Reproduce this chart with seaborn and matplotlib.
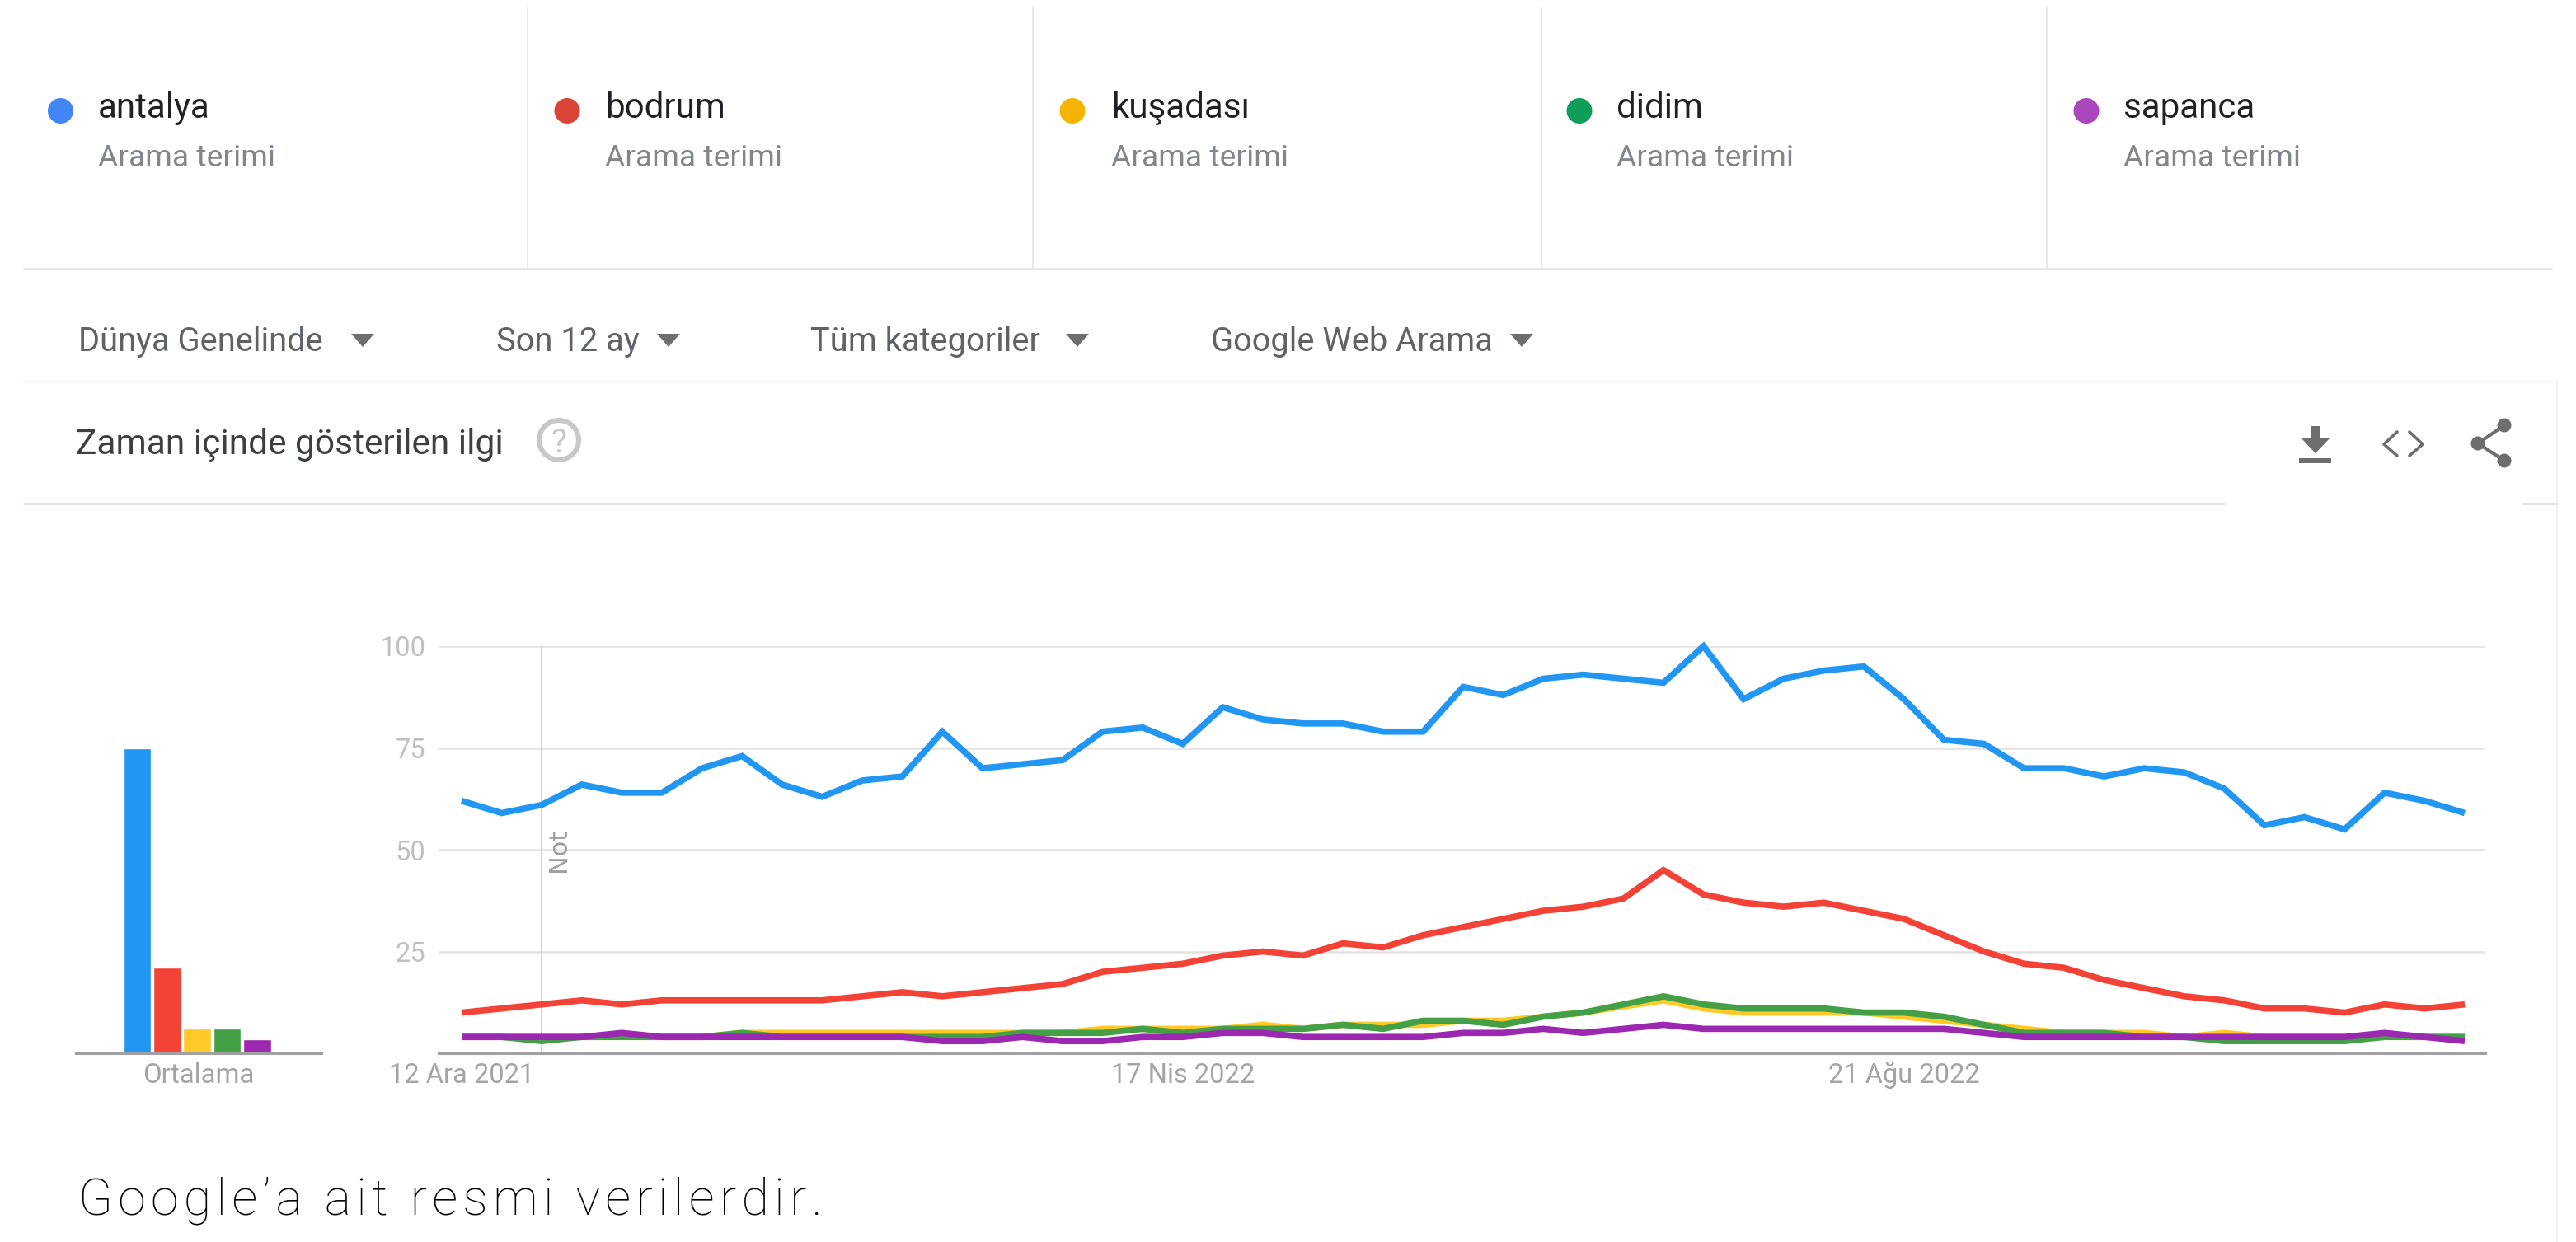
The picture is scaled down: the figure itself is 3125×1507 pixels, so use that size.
import matplotlib
matplotlib.use("Agg")
import matplotlib.pyplot as plt
import matplotlib.dates as mdates
from matplotlib.patches import Circle, Polygon
import pandas as pd
import seaborn as sns

W, H = 3125, 1507
terms = ["antalya", "bodrum", "kuşadası", "didim", "sapanca"]
dot_colors = ["#4285f4", "#db4437", "#f4b400", "#0f9d58", "#ab47bc"]
line_colors = ["#2196f3", "#f44336", "#ffca28", "#43a047", "#9c27b0"]
averages = [75, 21, 6, 6, 3.5]
start_date = "2021-12-12"
antalya = [62,59,61,66,64,64,70,73,66,63,67,68,79,70,71,72,79,80,76,85,82,81,81,79,79,90,88,92,93,92,91,100,87,92,94,95,87,77,76,70,70,68,70,69,65,56,58,55,64,62,59]
bodrum = [10,11,12,13,12,13,13,13,13,13,14,15,14,15,16,17,20,21,22,24,25,24,27,26,29,31,33,35,36,38,45,39,37,36,37,35,33,29,25,22,21,18,16,14,13,11,11,10,12,11,12]
kusadasi = [4,4,4,4,4,4,4,5,5,5,5,5,5,5,5,5,6,6,6,6,7,6,7,7,7,8,8,9,10,11.5,13,11,10,10,10,10,9,8,7,6,5,5,5,4,5,4,4,4,4,4,4]
didim = [4,4,3,4,4,4,4,5,4,4,4,4,4,4,5,5,5,6,5,6,6,6,7,6,8,8,7,9,10,12,14,12,11,11,11,10,10,9,7,5,5,5,4,4,3,3,3,3,4,4,4]
sapanca = [4,4,4,4,5,4,4,4,4,4,4,4,3,3,4,3,3,4,4,5,5,4,4,4,4,5,5,6,5,6,7,6,6,6,6,6,6,6,5,4,4,4,4,4,4,4,4,4,5,4,3]
y_ticks = [25, 50, 75, 100]
x_tick_dates = ["2021-12-12", "2022-04-17", "2022-08-21"]
x_tick_labels = ["12 Ara 2021", "17 Nis 2022", "21 Ağu 2022"]
note_date = "2021-12-26"
filters = ["Dünya Genelinde", "Son 12 ay", "Tüm kategoriler", "Google Web Arama"]
caption = "Google\u2019a ait resmi verilerdir."

sns.set_theme(style="white")
plt.rcParams["font.family"] = ["Roboto", "DejaVu Sans"]

dates = pd.date_range(start_date, periods=len(antalya), freq="7D")
long_df = pd.concat([
    pd.DataFrame({"date": dates, "term": t, "value": v})
    for t, v in zip(terms, [antalya, bodrum, kusadasi, didim, sapanca])
])
avg_df = pd.DataFrame({"term": terms, "value": averages})

fig = plt.figure(figsize=(W / 100, H / 100), dpi=100, facecolor="white")

def axes_px(x0, y0, x1, y1):
    return fig.add_axes([x0 / W, 1 - y1 / H, (x1 - x0) / W, (y1 - y0) / H])

# page chrome in pixel coordinates
ui = fig.add_axes([0, 0, 1, 1], zorder=0)
ui.set_xlim(0, W); ui.set_ylim(H, 0); ui.axis("off")

def hline(y, x0, x1, c="#e2e2e2", lw=2.0):
    ui.plot([x0, x1], [y, y], color=c, lw=lw, solid_capstyle="butt")
def vline(x, y0, y1, c="#e2e2e2", lw=1.1):
    ui.plot([x, x], [y0, y1], color=c, lw=lw, solid_capstyle="butt")

for x in [640, 1253, 1870, 2483]:
    vline(x, 8, 326)
hline(326, 28, 3096)
hline(463, 28, 3103, c="#f4f4f4", lw=1.2)
vline(3102, 463, H, c="#f1f1f1", lw=1.4)
hline(611, 28, 2699)
hline(611, 3059, 3103)

dot_x = [73.5, 688, 1301, 1916, 2531]
label_x = [119, 734, 1348, 1961, 2576]
for t, c, dx, lx in zip(terms, dot_colors, dot_x, label_x):
    ui.add_patch(Circle((dx, 134.5), 15.5, color=c, lw=0))
    ui.text(lx, 143, t, fontsize=30.3, color="#202124", va="baseline", ha="left")
    ui.text(lx, 202, "Arama terimi", fontsize=26.8, color="#80868b", va="baseline", ha="left")

filter_x = [95, 602, 983, 1469]
tri_x = [440, 811, 1307, 1846]
for t, fx, tx in zip(filters, filter_x, tri_x):
    ui.text(fx, 426, t, fontsize=28.7, color="#5f6368", va="baseline", ha="left")
    ui.add_patch(Polygon([(tx - 14, 405), (tx + 14, 405), (tx, 421)], color="#6e6e6e", lw=0))

ui.text(92, 551, "Zaman içinde gösterilen ilgi", fontsize=30.6, color="#3c4043", va="baseline", ha="left")
ui.add_patch(Circle((678, 534), 24, fill=False, ec="#c8c8c8", lw=4.4))
ui.text(678, 549, "?", fontsize=29, color="#c8c8c8", ha="center", va="baseline")

# download icon
ui.add_patch(Polygon([(2804, 517), (2814, 517), (2814, 532), (2826, 532), (2809, 550), (2792, 532), (2804, 532)], color="#6e6e6e", lw=0))
ui.add_patch(Polygon([(2789, 556), (2828, 556), (2828, 562), (2789, 562)], color="#6e6e6e", lw=0))
# code icon
ui.plot([2908, 2892, 2908], [524, 539, 553], color="#6e6e6e", lw=2.6)
ui.plot([2923, 2939, 2923], [524, 539, 553], color="#6e6e6e", lw=2.6)
# share icon
ui.plot([3038, 3006, 3038], [516, 538, 559], color="#6e6e6e", lw=3)
for p in [(3038, 516), (3006, 538), (3038, 559)]:
    ui.add_patch(Circle(p, 8.5, color="#6e6e6e", lw=0))

ui.text(95, 1474, "\u200a".join(caption), fontsize=44, family=["Roboto", "DejaVu Sans"],
        fontweight="light", color="#000000", va="baseline", ha="left")

# average bars
ax_b = axes_px(92, 784, 390, 1278)
ax_b.patch.set_alpha(0)
sns.barplot(data=avg_df, x="term", y="value", hue="term", order=terms, hue_order=terms,
            palette=line_colors, width=0.93, legend=False, saturation=1, ax=ax_b)
ax_b.set_xlim(-2.05, 6.15)
ax_b.set_ylim(0, 100)
ax_b.set_xlabel(""); ax_b.set_ylabel("")
ax_b.set_yticks([])
ax_b.set_xticks([2.05])
ax_b.set_xticklabels(["Ortalama"], fontsize=23.8, color="#a4a4a4")
ax_b.tick_params(axis="x", length=0, pad=8)
for s in ["top", "left", "right"]:
    ax_b.spines[s].set_visible(False)
ax_b.spines["bottom"].set_color("#a0a0a0")
ax_b.spines["bottom"].set_linewidth(2.2)

# time series
ax_l = axes_px(532, 784, 3015, 1278)
ax_l.patch.set_alpha(0)
ax_l.grid(False)
note_num = mdates.date2num(pd.Timestamp(note_date))
ax_l.axvline(note_num, color="#cfcfcf", lw=1.4, zorder=1)
sns.lineplot(data=long_df, x="date", y="value", hue="term", hue_order=terms, palette=line_colors,
             estimator=None, errorbar=None, legend=False, linewidth=5.5, ax=ax_l, zorder=3,
             solid_capstyle="butt", solid_joinstyle="miter", clip_on=False)
num0 = mdates.date2num(dates[0])
ax_l.set_xlim(num0 - 4.03, num0 + 353.6)
ax_l.set_ylim(0, 100)
ax_l.set_xlabel(""); ax_l.set_ylabel("")
ax_l.set_yticks(y_ticks)
ax_l.set_yticklabels([str(v) for v in y_ticks], fontsize=23.5, color="#c0c0c0")
ax_l.set_xticks(mdates.date2num(pd.to_datetime(x_tick_dates)))
ax_l.set_xticklabels(x_tick_labels, fontsize=23.5, color="#a4a4a4")
ax_l.tick_params(axis="x", length=0, pad=8)
ax_l.tick_params(axis="y", length=0, pad=11)
ax_l.yaxis.grid(True, color="#e2e2e2", lw=1.8)
ax_l.set_axisbelow(True)
for s in ["top", "left", "right"]:
    ax_l.spines[s].set_visible(False)
ax_l.spines["bottom"].set_color("#a0a0a0")
ax_l.spines["bottom"].set_linewidth(2.2)
ax_l.text(note_num + 0.9, 50, "Not", rotation=90, fontsize=22,
          family="DejaVu Sans", color="#9e9e9e", ha="left", va="center")
fig.savefig("out.png", dpi=100)
